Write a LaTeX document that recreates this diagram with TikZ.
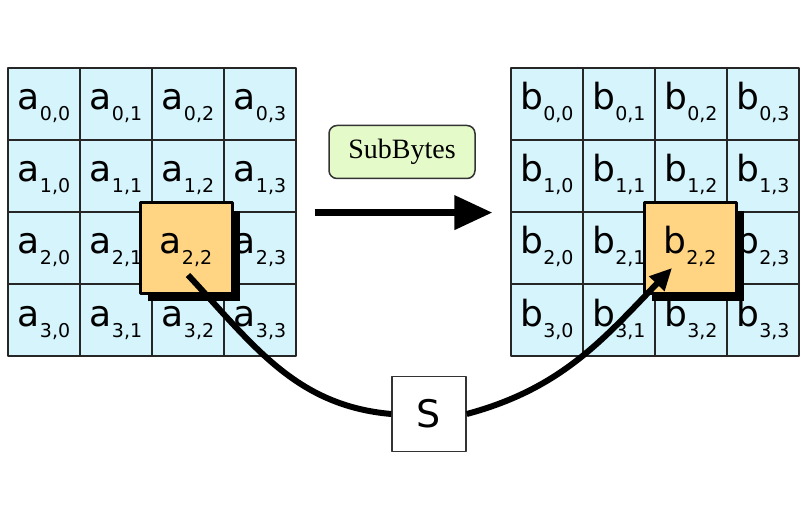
\documentclass[tikz,border=0pt]{standalone}
\usepackage{fontspec}
\setmainfont{DejaVu Sans}
\newfontfamily\serifbox{Liberation Serif}
\usetikzlibrary{arrows.meta,shadows}
\definecolor{cellblue}{RGB}{214,244,252}
\definecolor{hiorange}{RGB}{255,212,130}
\definecolor{boxgreen}{RGB}{228,250,200}
\newcommand{\entry}[2]{{\fontsize{36}{36}\selectfont #1}\raisebox{-11pt}{\fontsize{19}{19}\selectfont #2}}
\begin{document}
\begin{tikzpicture}[x=1pt,y=1pt,line join=round,
	cellbox/.style={draw=black!85,line width=1.2pt,fill=cellblue,minimum size=72pt,inner sep=0pt,text height=24pt,text depth=12pt},
	hibox/.style={draw=black,line width=3pt,fill=hiorange,minimum width=92pt,minimum height=90pt,inner sep=0pt,text height=24pt,text depth=12pt,general shadow={fill=black,shadow xshift=8pt,shadow yshift=-8pt}},
	opbox/.style={draw=black!80,line width=1.5pt,fill=boxgreen,rounded corners=8pt,minimum width=146pt,minimum height=53pt,font=\serifbox\fontsize{28}{28}\selectfont},
	sbox/.style={draw=black!80,line width=1.5pt,fill=white,minimum width=74pt,minimum height=75pt,font=\fontsize{38}{38}\selectfont}]
	\useasboundingbox (0,0) rectangle (800,520);
	%Hai ma trận trạng thái (ô 2,2 bị che)
	\foreach \r in {0,...,3}{
		\foreach \c in {0,...,3}{
			\ifnum\r\c=22
			\node[cellbox] (a\r\c) at (44+72*\c,416-72*\r) {};
			\node[cellbox] (b\r\c) at (547+72*\c,416-72*\r) {};
			\else
			\node[cellbox] (a\r\c) at (44+72*\c,416-72*\r) {\entry{a}{\r,\c}};
			\node[cellbox] (b\r\c) at (547+72*\c,416-72*\r) {\entry{b}{\r,\c}};
			\fi
		}}
	%Ô được chọn
	\node[hibox] (ha) at ([xshift=-2pt]a22) {\entry{a}{2,2}};
	\node[hibox] (hb) at ([xshift=-1pt]b22) {\entry{b}{2,2}};
	%Phép biến đổi
	\node[opbox] (op) at (402,368) {SubBytes};
	\draw[line width=7pt,-{Triangle[length=38pt,width=33pt]}] ([xshift=18pt]a13.south east) -- ([xshift=-18pt]b10.south west);
	\node[sbox] (sb) at (429,106) {S};
	\draw[line width=6pt] ([yshift=-27pt]a22.center) to[out=-47,in=175] (sb.west);
	\draw[line width=6pt,-{Triangle[length=22pt,width=20pt]}] (sb.east) to[out=15,in=-134] ([xshift=-19pt,yshift=-20pt]b22.center);
\end{tikzpicture}
\end{document}
